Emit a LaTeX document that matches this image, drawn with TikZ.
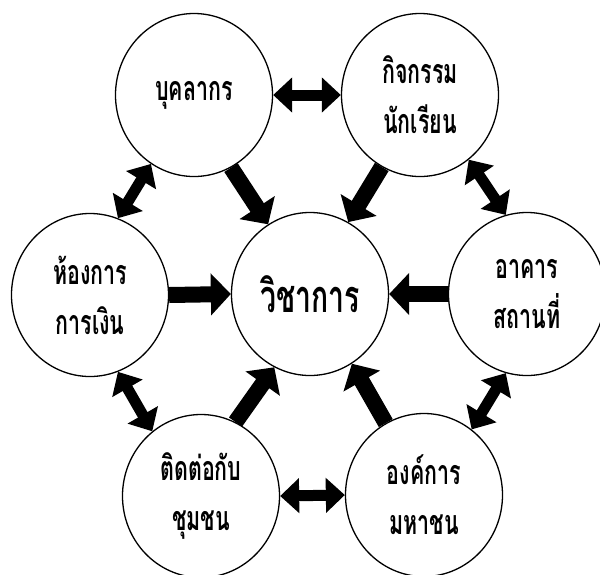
\documentclass[tikz,border=0pt]{standalone}
\usepackage{fontspec}
\newfontfamily\thaifont[Script=Thai,FakeStretch=0.63]{Loma}
\usetikzlibrary{shapes.geometric,arrows.meta}
\begin{document}
\begin{tikzpicture}[x=1pt,y=-1pt,
  bubble/.style={ellipse,draw,line width=1.3pt,fill=white,minimum width=157pt,minimum height=163pt,inner sep=0pt,align=center,
    font=\thaifont\bfseries\fontsize{34}{50}\selectfont},
  hub/.style={bubble,font=\thaifont\bfseries\fontsize{45}{50}\selectfont},
  duo/.style={line width=11pt,{Triangle[width=34pt,length=19pt]}-{Triangle[width=34pt,length=19pt]}},
  uno/.style={line width=16pt,-{Triangle[width=41pt,length=20pt]}}]
\useasboundingbox (0,0) rectangle (600,574);
\node[hub] (C) at (310,294) {วิชาการ};
\node[bubble] (BK) at (194,95) {บุคลากร};
\node[bubble] (KJ) at (420,95) {กิจกรรม\\นักเรียน};
\node[bubble] (HK) at (90,295) {ห้องการ\\การเงิน};
\node[bubble] (AK) at (527,294) {อาคาร\\สถานที่};
\node[bubble] (TT) at (201,496) {ติดต่อกับ\\ชุมชน};
\node[bubble] (OK) at (424,495) {องค์การ\\มหาชน};
% two-way links between neighbours
\draw[duo] (BK.east) -- (KJ.west);
\draw[duo] (BK.238) -- (HK.70);
\draw[duo] (KJ.307) -- (AK.105);
\draw[duo] (HK.290) -- (TT.127);
\draw[duo] (AK.255) -- (OK.54);
\draw[duo] (TT.east) -- (OK.west);
% links into the hub
\draw[uno] (BK.297) -- (C.121);
\draw[uno] (KJ.242) -- (C.62);
\draw[uno] (HK.east) -- (C.west);
\draw[uno] (AK.west) -- (C.east);
\draw[uno] (TT.65) -- (C.244);
\draw[uno] (OK.118) -- (C.301);
\end{tikzpicture}
\end{document}
